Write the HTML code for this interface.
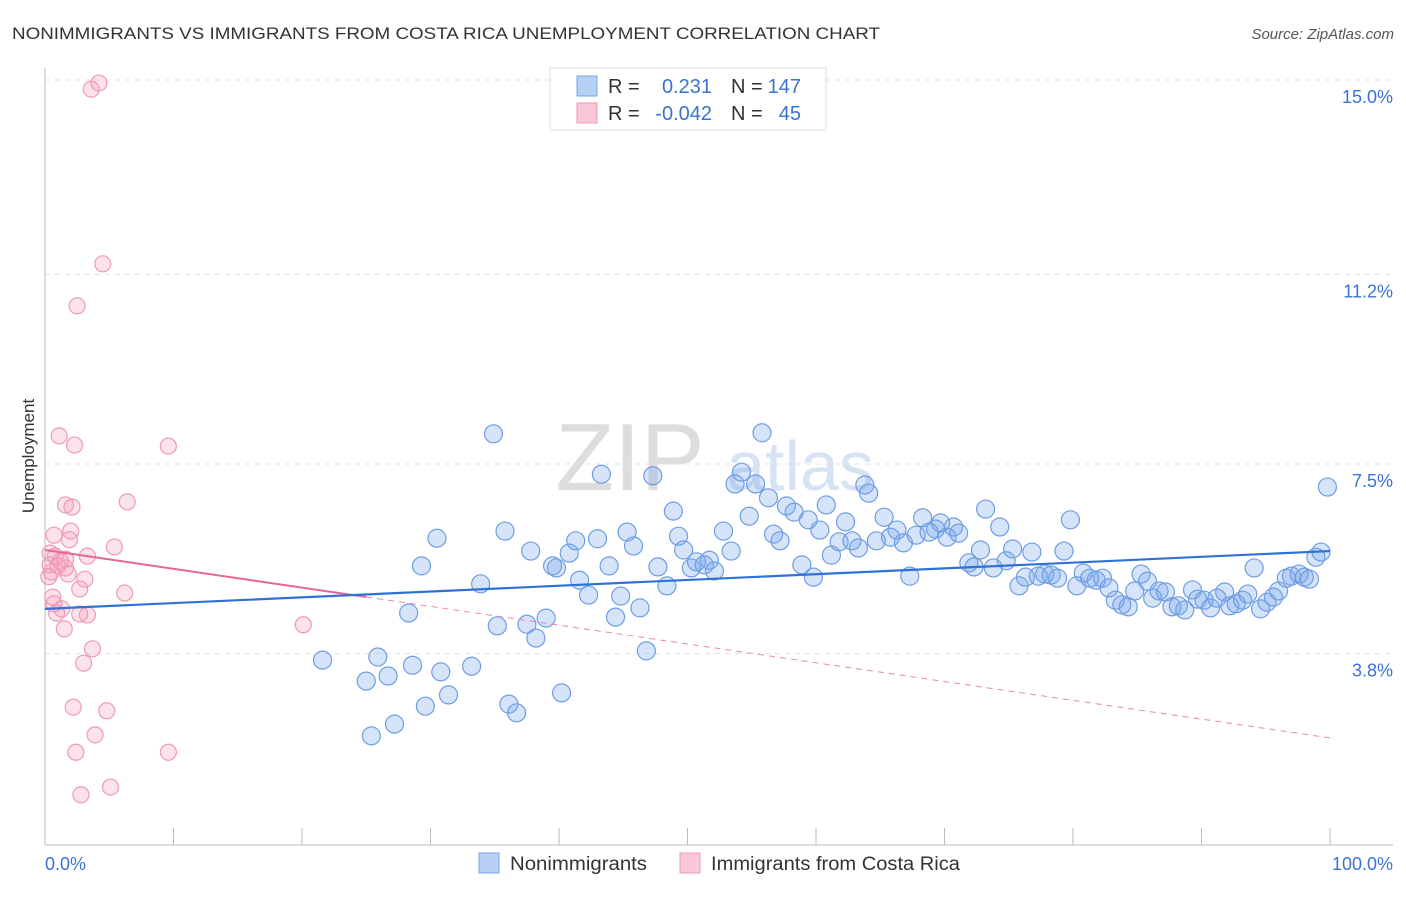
<!DOCTYPE html>
<html><head><meta charset="utf-8"><style>
body{margin:0;background:#fff;font-family:"Liberation Sans",sans-serif;}
svg text{font-family:"Liberation Sans",sans-serif;}
</style></head><body>
<svg id="chart" width="1406" height="892">
<text x="12" y="39" font-size="17" fill="#333" textLength="868" lengthAdjust="spacingAndGlyphs">NONIMMIGRANTS VS IMMIGRANTS FROM COSTA RICA UNEMPLOYMENT CORRELATION CHART</text>
<text x="1394" y="39" font-size="15" fill="#555" text-anchor="end" font-style="italic">Source: ZipAtlas.com</text>
<text x="630" y="490" font-size="96" fill="#ddd" font-family="Liberation Serif" text-anchor="middle">ZIP</text>
<text x="800" y="490" font-size="70" fill="#d6e3f5" text-anchor="middle">atlas</text>
<text x="34" y="456" font-size="17" fill="#333" text-anchor="middle" transform="rotate(-90 34 456)">Unemployment</text>
<g id="grid"></g><g id="axes"></g><g id="marks"></g>
<g>
<rect x="550" y="68" width="276" height="62" fill="#fff" stroke="#ddd"/>
<rect x="577" y="76" width="20" height="20" fill="#b7d0f5" stroke="#7aa5e6"/>
<text x="608" y="93" font-size="20" fill="#333">R =</text>
<text x="712" y="93" font-size="20" fill="#3b73d1" text-anchor="end">0.231</text>
<text x="731" y="93" font-size="20" fill="#333">N =</text>
<text x="801" y="93" font-size="20" fill="#3b73d1" text-anchor="end">147</text>
<rect x="577" y="103" width="20" height="20" fill="#f9c7d6" stroke="#eb9bb3"/>
<text x="608" y="120" font-size="20" fill="#333">R =</text>
<text x="712" y="120" font-size="20" fill="#3b73d1" text-anchor="end">-0.042</text>
<text x="731" y="120" font-size="20" fill="#333">N =</text>
<text x="801" y="120" font-size="20" fill="#3b73d1" text-anchor="end">45</text>
</g>
<g>
<rect x="479" y="853" width="20" height="20" fill="#b7d0f5" stroke="#7aa5e6"/>
<text x="510" y="870" font-size="19" fill="#333" textLength="137" lengthAdjust="spacingAndGlyphs">Nonimmigrants</text>
<rect x="680" y="853" width="20" height="20" fill="#f9c7d6" stroke="#eb9bb3"/>
<text x="711" y="870" font-size="19" fill="#333" textLength="249" lengthAdjust="spacingAndGlyphs">Immigrants from Costa Rica</text>
</g>
</svg>
<script>
const yTicks=[15.0,11.2,7.5,3.8];
const yTickLabels=["15.0%","11.2%","7.5%","3.8%"];
const xTickLabels=["0.0%","100.0%"];
const blueX=[21.6,25.0,25.4,25.9,26.7,27.2,28.3,28.6,29.3,29.6,30.5,30.8,31.4,33.2,33.9,34.9,35.2,35.8,36.1,36.7,37.5,37.8,38.2,39.0,39.5,39.8,40.2,40.8,41.3,41.6,42.3,43.0,43.3,43.9,44.4,44.8,45.3,45.8,46.3,46.8,47.3,47.7,48.4,48.9,49.3,49.7,50.3,50.7,51.3,51.7,52.1,52.8,53.4,53.7,54.2,54.8,55.3,55.8,56.3,56.7,57.2,57.7,58.3,58.9,59.4,59.8,60.3,60.8,61.2,61.8,62.3,62.8,63.3,63.8,64.1,64.7,65.3,65.8,66.3,66.8,67.3,67.8,68.3,68.8,69.3,69.7,70.2,70.7,71.1,71.9,72.3,72.8,73.2,73.8,74.3,74.8,75.3,75.8,76.3,76.8,77.3,77.8,78.3,78.8,79.3,79.8,80.3,80.8,81.3,81.8,82.3,82.8,83.3,83.8,84.3,84.8,85.3,85.8,86.2,86.7,87.2,87.7,88.2,88.7,89.3,89.7,90.2,90.7,91.2,91.8,92.2,92.7,93.2,93.6,94.1,94.6,95.1,95.6,96.0,96.6,97.0,97.6,98.0,98.4,98.9,99.3,99.8];
const blueY=[3.67,3.26,2.19,3.73,3.36,2.42,4.59,3.57,5.51,2.77,6.05,3.44,2.99,3.55,5.16,8.09,4.34,6.19,2.81,2.64,4.37,5.8,4.1,4.49,5.51,5.47,3.03,5.76,6.0,5.23,4.94,6.04,7.3,5.51,4.51,4.92,6.17,5.9,4.69,3.85,7.27,5.49,5.12,6.58,6.09,5.82,5.47,5.59,5.53,5.62,5.41,6.19,5.8,7.11,7.34,6.48,7.11,8.11,6.84,6.13,6.0,6.68,6.56,5.53,6.41,5.29,6.21,6.7,5.72,5.98,6.37,6.0,5.86,7.09,6.93,6.0,6.46,6.07,6.21,5.96,5.31,6.11,6.45,6.17,6.23,6.35,6.07,6.27,6.15,5.57,5.49,5.82,6.62,5.47,6.27,5.61,5.84,5.12,5.29,5.78,5.31,5.35,5.33,5.27,5.8,6.41,5.12,5.37,5.27,5.23,5.27,5.08,4.84,4.75,4.71,5.02,5.35,5.21,4.88,5.02,5.0,4.71,4.73,4.65,5.04,4.86,4.84,4.69,4.88,5.0,4.73,4.77,4.84,4.96,5.47,4.67,4.8,4.9,5.02,5.27,5.31,5.35,5.29,5.25,5.68,5.78,7.05];
const pinkX=[3.6,4.2,4.5,2.5,1.1,2.3,9.6,1.6,2.1,6.4,2.0,0.7,1.9,5.4,0.4,0.8,3.3,1.6,0.4,1.0,1.6,0.5,1.8,3.1,2.7,6.2,0.7,1.3,0.9,2.7,3.3,20.1,1.5,3.7,3.0,2.2,4.8,3.9,2.4,9.6,2.8,5.1,0.3,1.2,0.6];
const pinkY=[14.82,14.94,11.41,10.59,8.05,7.87,7.85,6.7,6.66,6.76,6.19,6.11,6.02,5.88,5.76,5.7,5.7,5.64,5.53,5.51,5.47,5.39,5.35,5.25,5.06,4.98,4.77,4.67,4.59,4.57,4.55,4.36,4.28,3.89,3.61,2.75,2.68,2.21,1.87,1.87,1.04,1.19,5.3,5.6,4.9];
const blueTrend=[4.67,5.8];
const pinkTrend=[5.82,2.15];
const pinkSolidEnd=25;
const NS="http://www.w3.org/2000/svg";
const X=v=>45+v*12.85, Y=v=>80+(15-v)*51.2;
function mk(tag,attrs,parent){const e=document.createElementNS(NS,tag);for(const k in attrs)e.setAttribute(k,attrs[k]);document.getElementById(parent).appendChild(e);return e;}
yTicks.forEach((t,i)=>{
 const l=mk('line',{x1:45,x2:1393,y1:Y(t),y2:Y(t),stroke:'#e2e2e2','stroke-dasharray':'5,5'},'grid');
 
 
 const tx=mk('text',{x:1393,y:Y(t)+23,'font-size':18,fill:'#3b73d1','text-anchor':'end'},'grid');tx.textContent=yTickLabels[i];
 
 
});
const ax=mk('line',{x1:45,x2:45,y1:68,y2:845,stroke:'#bbb'},'axes');


const bx=mk('line',{x1:45,x2:1393,y1:845,y2:845,stroke:'#bbb'},'axes');


for(let i=1;i<=10;i++){const t=mk('line',{x1:X(i*10),x2:X(i*10),y1:828,y2:845,stroke:'#bbb'},'axes');
 
 }
[[0,45,'start'],[100,1393,'end']].forEach((d,i)=>{const t=mk('text',{x:d[1],y:870,'font-size':18,fill:'#3b73d1','text-anchor':d[2]},'axes');t.textContent=xTickLabels[i];
 
 });
blueX.forEach((x,i)=>{const c=mk('circle',{cx:X(x),cy:Y(blueY[i]),r:9,fill:'rgba(120,165,235,0.3)',stroke:'#6f9de3','stroke-width':1.2},'marks');
 
 });
pinkX.forEach((x,i)=>{const c=mk('circle',{cx:X(x),cy:Y(pinkY[i]),r:8,fill:'rgba(245,160,190,0.3)',stroke:'#ee9ab5','stroke-width':1.2},'marks');
 
 });
const pAt=v=>pinkTrend[0]+(pinkTrend[1]-pinkTrend[0])*v/100;
const pd=mk('line',{x1:X(pinkSolidEnd),y1:Y(pAt(pinkSolidEnd)),x2:X(100),y2:Y(pinkTrend[1]),stroke:'#e98aa8','stroke-width':1,'stroke-dasharray':'6,5'},'marks');


const ps=mk('line',{x1:X(0),y1:Y(pinkTrend[0]),x2:X(pinkSolidEnd),y2:Y(pAt(pinkSolidEnd)),stroke:'#e8668f','stroke-width':2},'marks');


const bt=mk('line',{x1:X(0),y1:Y(blueTrend[0]),x2:X(100),y2:Y(blueTrend[1]),stroke:'#2f72d6','stroke-width':2.2},'marks');


</script>
</body></html>
